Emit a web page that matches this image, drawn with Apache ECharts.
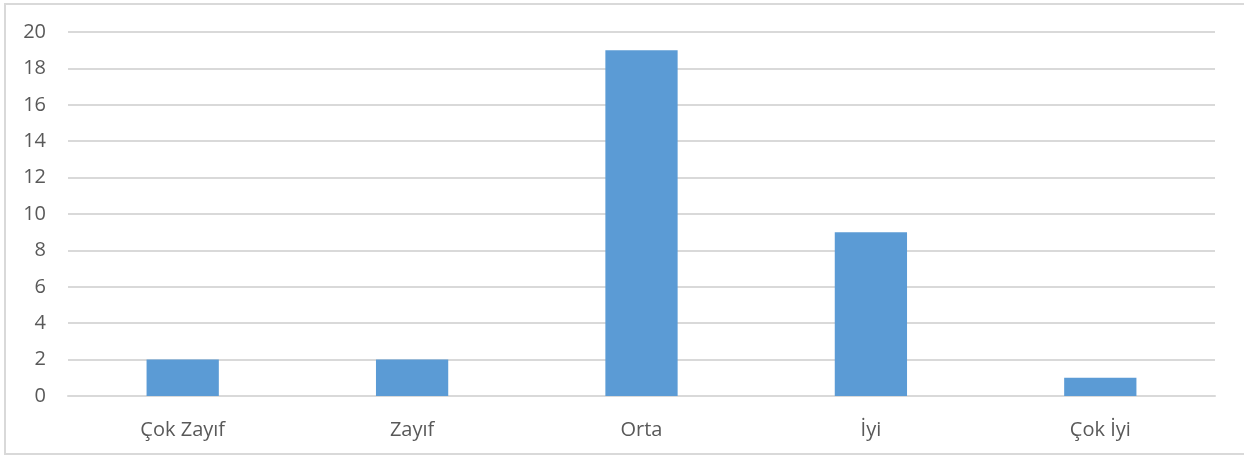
<!DOCTYPE html>
<html>
<head>
<meta charset="utf-8">
<script src="https://cdn.jsdelivr.net/npm/echarts@6/dist/echarts.min.js"></script>
<style>
  html, body { margin: 0; padding: 0; background: #fff; }
  #chart { width: 1244px; height: 457px; }
  .frame { position: absolute; left: 4px; top: 3px; width: 1250px; height: 452px; border: 2px solid #d9d9d9; box-sizing: border-box; pointer-events: none; }
</style>
</head>
<body>
<div id="chart"></div>
<div class="frame"></div>
<script>
// kategoriler ve değerler
const categories = ['Çok Zayıf', 'Zayıf', 'Orta', 'İyi', 'Çok İyi'];
const counts = [2, 2, 19, 9, 1];
const yMin = 0, yMax = 20, yStep = 2;

const myChart = echarts.init(document.getElementById('chart'));
const option = {
    animation: false,
    grid: { left: 68, right: 29, top: 32, bottom: 61 },
    xAxis: {
        type: 'category',
        data: categories,
        axisLine: { lineStyle: { color: '#d9d9d9', width: 2 } },
        axisTick: { show: false },
        axisLabel: { color: '#595959', fontSize: 20, margin: 24, fontFamily: 'Open Sans' }
    },
    yAxis: {
        type: 'value',
        min: yMin,
        max: yMax,
        interval: yStep,
        axisLine: { show: false },
        axisTick: { show: false },
        axisLabel: { color: '#595959', fontSize: 20, margin: 22, fontFamily: 'Open Sans' },
        splitLine: { lineStyle: { color: '#d9d9d9', width: 2 } }
    },
    series: [{
        type: 'bar',
        data: counts,
        barWidth: '31.5%',
        itemStyle: { color: '#5b9bd5' }
    }]
};
myChart.setOption(option);
</script>
</body>
</html>
